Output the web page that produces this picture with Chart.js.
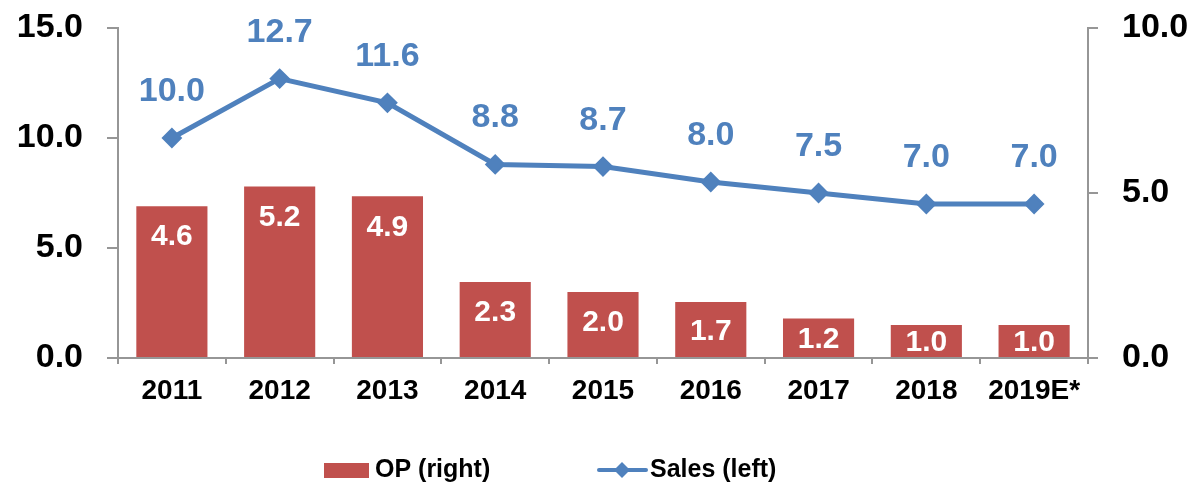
<!DOCTYPE html>
<html>
<head>
<meta charset="utf-8">
<script src="https://cdn.jsdelivr.net/npm/chart.js@4/dist/chart.umd.min.js"></script>
<style>
  html, body { margin: 0; padding: 0; background: #fff; }
</style>
</head>
<body>
<canvas id="chart" width="1192" height="487"></canvas>
<script>
// data
const years = ['2011', '2012', '2013', '2014', '2015', '2016', '2017', '2018', '2019E*'];
const sales = [10.0, 12.7, 11.6, 8.8, 8.7, 8.0, 7.5, 7.0, 7.0];   // left axis
const op = [4.6, 5.2, 4.9, 2.3, 2.0, 1.7, 1.2, 1.0, 1.0];         // right axis
const leftTicks = [0, 5, 10, 15];
const rightTicks = [0, 5, 10];

const FONT = "'Liberation Sans', Arial, sans-serif";
const RED = '#C0504D';
const BLUE = '#4F81BD';
const AXIS = '#969696';

// value labels: blue above line points, white inside bars
const valueLabels = {
    id: 'valueLabels',
    afterDatasetsDraw(chart) {
        const ctx = chart.ctx;
        ctx.save();
        ctx.textAlign = 'center';
        chart.data.datasets.forEach((ds, i) => {
            const meta = chart.getDatasetMeta(i);
            meta.data.forEach((el, j) => {
                const txt = ds.data[j].toFixed(1);
                if (ds.type === 'line') {
                    ctx.font = 'bold 34px ' + FONT;
                    ctx.fillStyle = BLUE;
                    ctx.textBaseline = 'alphabetic';
                    ctx.fillText(txt, el.x, el.y - 37);
                } else {
                    ctx.font = 'bold 30px ' + FONT;
                    ctx.fillStyle = '#fff';
                    ctx.textBaseline = 'middle';
                    const y = Math.min(el.y + 31, (el.y + el.base) / 2 + 2);
                    ctx.fillText(txt, el.x, y);
                }
            });
        });
        ctx.restore();
    }
};

// legend at the bottom: red box for bars, line with diamond for sales
const bottomLegend = {
    id: 'bottomLegend',
    afterDraw(chart) {
        const ctx = chart.ctx;
        const ds = chart.data.datasets;
        const y = 470;
        ctx.save();
        ctx.font = 'bold 25px ' + FONT;
        ctx.textBaseline = 'middle';

        // bars
        ctx.fillStyle = ds[1].backgroundColor;
        ctx.fillRect(324, y - 7, 45, 15);
        ctx.fillStyle = '#000';
        ctx.fillText(ds[1].label, 375, y);

        // line
        ctx.strokeStyle = ds[0].borderColor;
        ctx.lineWidth = 4;
        ctx.lineCap = 'round';
        ctx.beginPath();
        ctx.moveTo(599, y);
        ctx.lineTo(646, y);
        ctx.stroke();
        ctx.fillStyle = ds[0].borderColor;
        ctx.beginPath();
        ctx.moveTo(622, y - 8);
        ctx.lineTo(630, y);
        ctx.lineTo(622, y + 8);
        ctx.lineTo(614, y);
        ctx.closePath();
        ctx.fill();
        ctx.fillStyle = '#000';
        ctx.fillText(ds[0].label, 650, y);
        ctx.restore();
    }
};

new Chart(document.getElementById('chart').getContext('2d'), {
    data: {
        labels: years,
        datasets: [{
            type: 'line',
            label: 'Sales (left)',
            data: sales,
            yAxisID: 'y',
            borderColor: BLUE,
            backgroundColor: BLUE,
            borderWidth: 5,
            pointStyle: 'rectRot',
            pointRadius: 9,
            pointBorderWidth: 2,
            pointBackgroundColor: BLUE,
            pointBorderColor: BLUE,
            tension: 0,
            order: 0
        }, {
            type: 'bar',
            label: 'OP (right)',
            data: op,
            yAxisID: 'y1',
            backgroundColor: RED,
            borderWidth: 0,
            barPercentage: 0.66,
            categoryPercentage: 1,
            order: 1
        }]
    },
    options: {
        responsive: false,
        animation: false,
        layout: { padding: { top: 28, left: 0, right: 0, bottom: 0 } },
        plugins: {
            legend: { display: false },
            tooltip: { enabled: false }
        },
        scales: {
            x: {
                offset: true,
                grid: {
                    offset: true,
                    drawOnChartArea: false,
                    tickLength: 6,
                    color: AXIS,
                    lineWidth: 2
                },
                border: { color: AXIS, width: 2 },
                ticks: {
                    color: '#000',
                    padding: 10,
                    maxRotation: 0,
                    autoSkip: false,
                    font: { family: FONT, size: 28, weight: 'bold' }
                },
                afterFit(scale) { scale.height = 129; scale.paddingLeft = 0; scale.paddingRight = 0; }
            },
            y: {
                position: 'left',
                min: 0,
                max: 15,
                afterBuildTicks(scale) { scale.ticks = leftTicks.map(v => ({ value: v })); },
                grid: {
                    drawOnChartArea: false,
                    tickLength: 11,
                    color: AXIS,
                    lineWidth: 2
                },
                border: { color: AXIS, width: 2 },
                ticks: {
                    color: '#000',
                    padding: 24,
                    font: { family: FONT, size: 34, weight: 'bold' },
                    callback: v => Number(v).toFixed(1)
                },
                afterFit(scale) { scale.width = 118; scale.paddingTop = 0; scale.paddingBottom = 0; }
            },
            y1: {
                position: 'right',
                min: 0,
                max: 10,
                afterBuildTicks(scale) { scale.ticks = rightTicks.map(v => ({ value: v })); },
                grid: {
                    drawOnChartArea: false,
                    tickLength: 10,
                    color: AXIS,
                    lineWidth: 2
                },
                border: { color: AXIS, width: 2 },
                ticks: {
                    color: '#000',
                    padding: 24,
                    font: { family: FONT, size: 34, weight: 'bold' },
                    callback: v => Number(v).toFixed(1)
                },
                afterFit(scale) { scale.width = 104; scale.paddingTop = 0; scale.paddingBottom = 0; }
            }
        }
    },
    plugins: [valueLabels, bottomLegend]
});
</script>
</body>
</html>
